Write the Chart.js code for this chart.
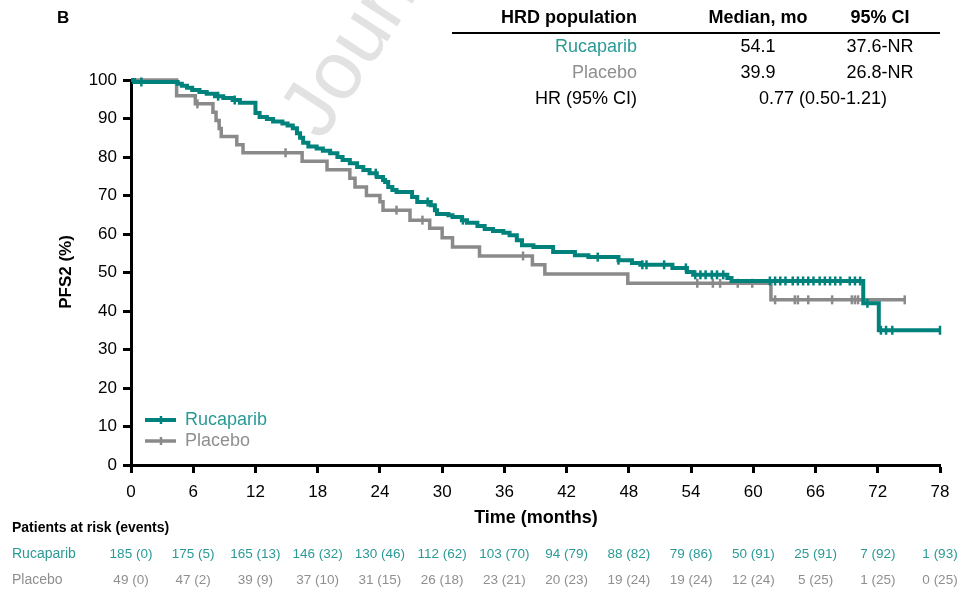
<!DOCTYPE html>
<html>
<head>
<meta charset="utf-8">
<title>PFS2 HRD population</title>
<script src="https://cdn.jsdelivr.net/npm/chart.js@4.4.1/dist/chart.umd.min.js"></script>
<style>
  html, body { margin: 0; padding: 0; background: #fff; }
  #wrap { width: 962px; height: 592px; }
</style>
</head>
<body>
<div id="wrap"><canvas id="kmChart" width="962" height="592"></canvas></div>
<script>
// Kaplan-Meier steps: time (months) and PFS2 (%) after each step
const rucaTime = [0, 0.3, 4.5, 4.9, 5.4, 5.9, 6.6, 7.3, 8.1, 8.9, 9.8, 10.5, 12.0, 12.4, 13.1, 13.7, 14.6, 15.1, 15.6, 16.0, 16.3, 16.6, 17.1, 17.9, 18.5, 19.2, 19.9, 20.4, 21.1, 21.8, 22.4, 23.0, 23.7, 24.3, 24.5, 24.8, 25.2, 25.6, 27.1, 27.6, 28.9, 29.3, 29.5, 30.6, 31.0, 31.9, 32.4, 33.4, 34.1, 34.9, 35.9, 36.5, 37.2, 37.7, 38.8, 40.7, 42.8, 44.1, 47.0, 48.3, 49.1, 52.2, 53.6, 54.2, 57.5, 57.9, 70.6, 72.1, 78.0];
const rucaSurv = [100, 99.5, 99.0, 98.5, 98.0, 97.4, 96.9, 96.4, 95.8, 95.3, 94.8, 94.1, 91.4, 90.4, 89.9, 89.2, 88.7, 88.2, 87.5, 86.2, 85.0, 83.7, 82.7, 82.2, 81.6, 81.0, 80.0, 79.2, 78.4, 77.4, 76.6, 75.8, 74.8, 74.0, 73.5, 72.2, 71.4, 70.9, 69.6, 68.3, 67.5, 66.2, 65.2, 64.9, 64.4, 63.6, 62.9, 62.1, 61.3, 60.8, 60.3, 59.7, 58.4, 57.1, 56.6, 55.3, 54.5, 54.0, 53.2, 52.5, 52.0, 51.2, 50.1, 49.4, 48.6, 47.8, 42.0, 35.0, 35.0];
const placTime = [0, 4.4, 6.2, 7.9, 8.2, 8.5, 8.7, 10.2, 10.8, 16.5, 18.9, 21.1, 21.6, 22.7, 24.0, 24.3, 26.9, 28.8, 30.0, 31.0, 33.6, 38.7, 39.9, 47.9, 61.7, 74.6];
const placSurv = [100, 95.9, 93.8, 91.6, 89.5, 87.4, 85.3, 83.2, 81.1, 78.9, 76.7, 74.5, 72.2, 70.0, 68.4, 66.2, 63.6, 61.5, 59.0, 56.6, 54.3, 52.0, 49.6, 47.2, 42.9, 42.9];

// censoring marks (months)
const rucaCensor = [1.0, 8.4, 10.0, 23.6, 28.6, 32.0, 45.0, 47.0, 49.3, 49.7, 51.4, 53.5, 54.4, 54.9, 55.4, 56.0, 56.5, 57.1, 61.6, 62.1, 62.6, 63.1, 63.8, 64.3, 64.8, 65.3, 65.8, 66.4, 66.9, 67.4, 67.9, 68.4, 69.3, 69.8, 70.3, 71.0, 72.3, 72.8, 73.4, 78.0];
const placCensor = [6.4, 14.9, 25.6, 28.1, 37.8, 54.6, 56.1, 56.8, 58.5, 59.9, 62.1, 64.0, 64.3, 65.3, 67.6, 69.5, 69.8, 70.1, 74.6];

// x ticks and patients at risk
const riskTimes = [0, 6, 12, 18, 24, 30, 36, 42, 48, 54, 60, 66, 72, 78];
const rucaRisk = ["185 (0)", "175 (5)", "165 (13)", "146 (32)", "130 (46)", "112 (62)", "103 (70)", "94 (79)", "88 (82)", "79 (86)", "50 (91)", "25 (91)", "7 (92)", "1 (93)"];
const placRisk = ["49 (0)", "47 (2)", "39 (9)", "37 (10)", "31 (15)", "26 (18)", "23 (21)", "20 (23)", "19 (24)", "19 (24)", "12 (24)", "5 (25)", "1 (25)", "0 (25)"];

// summary table
const tableHead = ["HRD population", "Median, mo", "95% CI"];
const tableRows = [
  ["Rucaparib", "54.1", "37.6-NR"],
  ["Placebo", "39.9", "26.8-NR"]
];
const hrLabel = "HR (95% CI)";
const hrValue = "0.77 (0.50-1.21)";

const TEAL = "#00827c";
const TEAL_TXT = "#2a9a95";
const GRAY = "#8a8a8a";
const GRAY_TXT = "#8f8f8f";
const FONT = "Liberation Sans, Arial, sans-serif";

function stepPoints(times, surv) {
  return times.map((t, i) => ({ x: t, y: surv[i] }));
}

// value of a step curve at time t (for placing censor ticks on the curve)
function survAt(times, surv, t) {
  let v = surv[0];
  for (let i = 0; i < times.length; i++) {
    if (times[i] <= t) v = surv[i];
  }
  return v;
}

function censorPoints(times, surv, cens) {
  return cens.map(t => ({ x: t, y: survAt(times, surv, t) }));
}

const annotations = {
  id: "annotations",
  beforeDatasetsDraw(chart) {
    const ctx = chart.ctx;
    // faint watermark
    ctx.save();
    ctx.translate(322, 142);
    ctx.rotate(-57 * Math.PI / 180);
    ctx.fillStyle = "#e2e2e2";
    ctx.font = "82px " + FONT;
    ctx.textBaseline = "alphabetic";
    ctx.fillText("Journal Pre-proof", 0, 0);
    ctx.restore();
  },
  afterDraw(chart) {
    const ctx = chart.ctx;
    const x = chart.scales.x;
    ctx.save();
    ctx.textBaseline = "middle";

    // panel letter
    ctx.fillStyle = "#000";
    ctx.font = "bold 17px " + FONT;
    ctx.textAlign = "left";
    ctx.fillText("B", 57, 18);

    // summary table
    ctx.font = "bold 18px " + FONT;
    ctx.textAlign = "right";
    ctx.fillText(tableHead[0], 637, 18);
    ctx.textAlign = "center";
    ctx.fillText(tableHead[1], 758, 18);
    ctx.fillText(tableHead[2], 880, 18);
    ctx.strokeStyle = "#000";
    ctx.lineWidth = 2;
    ctx.beginPath();
    ctx.moveTo(452, 33);
    ctx.lineTo(940, 33);
    ctx.stroke();

    ctx.font = "18px " + FONT;
    const rowColors = [TEAL_TXT, GRAY_TXT];
    tableRows.forEach((row, i) => {
      const yy = 47 + i * 26;
      ctx.textAlign = "right";
      ctx.fillStyle = rowColors[i];
      ctx.fillText(row[0], 637, yy);
      ctx.fillStyle = "#000";
      ctx.textAlign = "center";
      ctx.fillText(row[1], 758, yy);
      ctx.fillText(row[2], 880, yy);
    });
    ctx.textAlign = "right";
    ctx.fillText(hrLabel, 637, 99);
    ctx.textAlign = "center";
    ctx.fillText(hrValue, 823, 99);

    // axis titles
    ctx.font = "bold 18px " + FONT;
    ctx.fillText("Time (months)", 536, 518);
    ctx.save();
    ctx.translate(66, 272);
    ctx.rotate(-Math.PI / 2);
    ctx.font = "bold 17px " + FONT;
    ctx.fillText("PFS2 (%)", 0, 0);
    ctx.restore();

    // legend inside plot
    const leg = [["Rucaparib", TEAL, TEAL_TXT, 420, 4], ["Placebo", GRAY, GRAY_TXT, 441, 3.5]];
    leg.forEach(([name, col, txt, yy, w]) => {
      ctx.strokeStyle = col;
      ctx.lineWidth = w;
      ctx.beginPath();
      ctx.moveTo(145, yy);
      ctx.lineTo(176, yy);
      ctx.stroke();
      ctx.lineWidth = 2.5;
      ctx.beginPath();
      ctx.moveTo(161, yy - 4);
      ctx.lineTo(161, yy + 4);
      ctx.stroke();
      ctx.fillStyle = txt;
      ctx.textAlign = "left";
      ctx.font = "18px " + FONT;
      ctx.fillText(name, 185, yy);
    });

    // patients at risk table
    ctx.fillStyle = "#000";
    ctx.font = "bold 14px " + FONT;
    ctx.textAlign = "left";
    ctx.fillText("Patients at risk (events)", 12, 528);
    ctx.font = "14px " + FONT;
    ctx.fillStyle = TEAL_TXT;
    ctx.fillText("Rucaparib", 12, 554);
    ctx.fillStyle = GRAY_TXT;
    ctx.fillText("Placebo", 12, 580);
    ctx.font = "13.5px " + FONT;
    ctx.textAlign = "center";
    riskTimes.forEach((t, i) => {
      const px = x.getPixelForValue(t);
      ctx.fillStyle = TEAL_TXT;
      ctx.fillText(rucaRisk[i], px, 554);
      ctx.fillStyle = GRAY_TXT;
      ctx.fillText(placRisk[i], px, 580);
    });
    ctx.restore();
  }
};

const ctx = document.getElementById("kmChart").getContext("2d");
new Chart(ctx, {
  type: "line",
  data: {
    datasets: [
      {
        label: "Rucaparib censored",
        data: censorPoints(rucaTime, rucaSurv, rucaCensor),
        showLine: false,
        pointStyle: "line",
        rotation: 90,
        pointRadius: 4.5,
        pointBorderWidth: 2.5,
        borderColor: TEAL,
        pointBorderColor: TEAL,
        clip: false
      },
      {
        label: "Rucaparib",
        data: stepPoints(rucaTime, rucaSurv),
        stepped: "before",
        borderColor: TEAL,
        borderWidth: 4,
        pointRadius: 0,
        fill: false,
        clip: false
      },
      {
        label: "Placebo censored",
        data: censorPoints(placTime, placSurv, placCensor),
        showLine: false,
        pointStyle: "line",
        rotation: 90,
        pointRadius: 4.5,
        pointBorderWidth: 2.5,
        borderColor: GRAY,
        pointBorderColor: GRAY,
        clip: false
      },
      {
        label: "Placebo",
        data: stepPoints(placTime, placSurv),
        stepped: "before",
        borderColor: GRAY,
        borderWidth: 3.5,
        pointRadius: 0,
        fill: false,
        clip: false
      }
    ]
  },
  options: {
    responsive: false,
    animation: false,
    layout: { padding: { top: 80, right: 22, left: 0, bottom: 0 } },
    plugins: {
      legend: { display: false },
      tooltip: { enabled: false }
    },
    scales: {
      x: {
        type: "linear",
        min: 0,
        max: 78,
        afterFit: s => { s.height = 127; },
        afterBuildTicks: s => { s.ticks = riskTimes.map(v => ({ value: v })); },
        ticks: { color: "#000", font: { family: FONT, size: 17 }, padding: 9, maxRotation: 0 },
        grid: { drawOnChartArea: false, drawTicks: true, tickLength: 8, tickWidth: 3, tickColor: "#000" },
        border: { display: true, color: "#000", width: 3 }
      },
      y: {
        min: 0,
        max: 100,
        afterFit: s => { s.width = 131; },
        ticks: { stepSize: 10, color: "#000", font: { family: FONT, size: 17 }, padding: 6 },
        grid: { drawOnChartArea: false, drawTicks: true, tickLength: 8, tickWidth: 3, tickColor: "#000" },
        border: { display: true, color: "#000", width: 3 }
      }
    }
  },
  plugins: [annotations]
});
</script>
</body>
</html>
